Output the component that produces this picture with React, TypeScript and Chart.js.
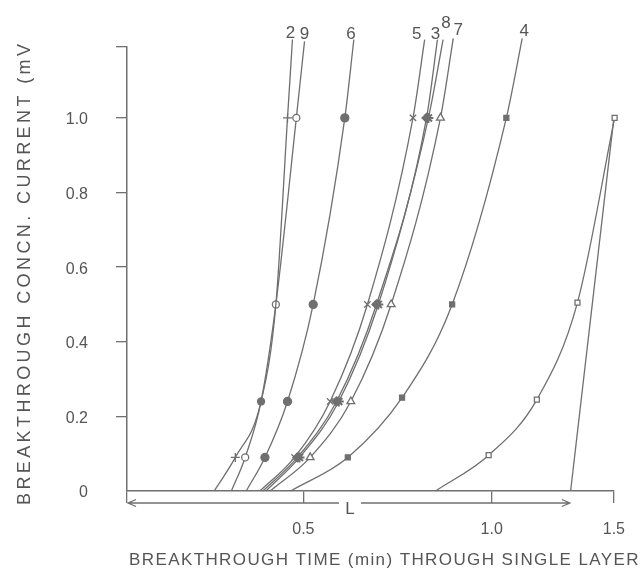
import React, { useEffect, useRef } from 'react';
import { Chart, registerables, LinearScale } from 'chart.js';

// ---------------- values ----------------
const X_TICK_VALUES = [0, 0.5, 1.0, 1.5];
const X_TICK_LABELS = ['', '0.5', '1.0', '1.5'];
const Y_TICK_VALUES = [0, 0.2, 0.4, 0.6, 0.8, 1.0, 1.19];
const Y_TICK_LABELS = ['0', '0.2', '0.4', '0.6', '0.8', '1.0', ''];

const X_TITLE = 'BREAKTHROUGH TIME (min) THROUGH SINGLE LAYER';
const Y_TITLE = 'BREAKTHROUGH CONCN. CURRENT (mV';
const L_LABEL = 'L';
const L_END = 1.32; // single-layer breakthrough time (end of the L arrow)

const CURVE_LABELS = ['2', '9', '6', '5', '3', '8', '7', '4', '', ''];

// time (min) / concn current (mV); first point = where the curve leaves the baseline,
// last point of labelled curves = upper end of the line under its number
const curve2X = [0.247, 0.307, 0.38, 0.422, 0.455, 0.469];
const curve2Y = [0, 0.09, 0.24, 0.5, 1.0, 1.21];
const curve9X = [0.296, 0.335, 0.38, 0.422, 0.48, 0.503];
const curve9Y = [0, 0.09, 0.24, 0.5, 1.0, 1.205];
const curve6X = [0.338, 0.391, 0.455, 0.526, 0.61, 0.634];
const curve6Y = [0, 0.09, 0.24, 0.5, 1.0, 1.21];
const curve5X = [0.377, 0.475, 0.571, 0.67, 0.791, 0.822];
const curve5Y = [0, 0.09, 0.24, 0.5, 1.0, 1.21];
const curve3X = [0.385, 0.483, 0.588, 0.694, 0.827, 0.856];
const curve3Y = [0, 0.09, 0.24, 0.5, 1.0, 1.21];
const curve8X = [0.394, 0.489, 0.594, 0.699, 0.832, 0.871];
const curve8Y = [0, 0.09, 0.24, 0.5, 1.0, 1.21];
const curve7X = [0.406, 0.518, 0.626, 0.733, 0.864, 0.898];
const curve7Y = [0, 0.09, 0.24, 0.5, 1.0, 1.213];
const curve4X = [0.464, 0.618, 0.762, 0.895, 1.06, 1.125];
const curve4Y = [0, 0.09, 0.25, 0.5, 1.0, 1.213];
const curve1X = [0.851, 0.992, 1.185, 1.351, 1.503];
const curve1Y = [0, 0.096, 0.245, 0.505, 1.0];
const singleX = [1.323, 1.5, 1.51];
const singleY = [0, 1.0, 1.04];

const CURVES_X = [curve2X, curve9X, curve6X, curve5X, curve3X, curve8X, curve7X, curve4X, curve1X, singleX];
const CURVES_Y = [curve2Y, curve9Y, curve6Y, curve5Y, curve3Y, curve8Y, curve7Y, curve4Y, curve1Y, singleY];

// where curves 2 and 9 run together only one symbol is printed
const curve2Marked = [false, true, false, false, true, false];
const curve9FilledAt = [false, false, true, false, false, false];

// ---------------- styles ----------------
const FONT = '"Liberation Sans", Arial, Helvetica, sans-serif';
const LINE_COLOR = '#6f6f6f';
const AXIS_COLOR = '#707070';
const TEXT_COLOR = '#555555';

const MARKERS: any[] = [
  { style: 'cross', filled: false, r: 4.5 },
  { style: 'circle', filled: false, r: 3.5 },
  { style: 'circle', filled: true, r: 4 },
  { style: 'crossRot', filled: false, r: 4.5 },
  { style: 'rectRot', filled: true, r: 4.5 },
  { style: 'star', filled: true, r: 5 },
  { style: 'triangle', filled: false, r: 4.5 },
  { style: 'rect', filled: true, r: 3.5 },
  { style: 'rect', filled: false, r: 3.5 },
  { style: false, filled: false, r: 0 },
];
// label offset from the upper end of each line [dx, dy]
const LABEL_OFFSETS = [[-2, -2], [0, -2], [-3, -1], [-8, -1], [-2, -1], [3, -12], [5, -3], [2, -2], [0, 0], [0, 0]];

// printed tick positions along the drawn axis are not evenly spaced
const X_BREAK_VALUES = [0, 0.5, 1.0, 1.5];
const X_BREAK_FRACTIONS = [0, 0.3623, 0.749, 1];

class SegmentedScale extends LinearScale {
  static id = 'segmented';
  static defaults = {};
  getPixelForValue(value: number) {
    const v = value;
    let i = 0;
    while (i < X_BREAK_VALUES.length - 2 && v > X_BREAK_VALUES[i + 1]) i++;
    const t = (v - X_BREAK_VALUES[i]) / (X_BREAK_VALUES[i + 1] - X_BREAK_VALUES[i]);
    const f = X_BREAK_FRACTIONS[i] + t * (X_BREAK_FRACTIONS[i + 1] - X_BREAK_FRACTIONS[i]);
    return this.getPixelForDecimal(f);
  }
  getValueForPixel(pixel: number) {
    const f = this.getDecimalForPixel(pixel);
    let i = 0;
    while (i < X_BREAK_FRACTIONS.length - 2 && f > X_BREAK_FRACTIONS[i + 1]) i++;
    const t = (f - X_BREAK_FRACTIONS[i]) / (X_BREAK_FRACTIONS[i + 1] - X_BREAK_FRACTIONS[i]);
    return X_BREAK_VALUES[i] + t * (X_BREAK_VALUES[i + 1] - X_BREAK_VALUES[i]);
  }
}

Chart.register(...registerables, SegmentedScale);

const annotationsPlugin = {
  id: 'figureAnnotations',
  afterDraw(chart: any) {
    const { ctx, chartArea } = chart;
    const xs = chart.scales.x;
    ctx.save();
    ctx.strokeStyle = AXIS_COLOR;
    ctx.fillStyle = TEXT_COLOR;
    ctx.lineWidth = 1.3;

    // L arrow
    const y = chartArea.bottom + 12;
    const x0 = xs.getPixelForValue(0) + 1;
    const x1 = xs.getPixelForValue(L_END);
    const mid = (x0 + x1) / 2;
    ctx.beginPath();
    ctx.moveTo(x0, y);
    ctx.lineTo(mid - 10, y);
    ctx.moveTo(mid + 12, y);
    ctx.lineTo(x1, y);
    ctx.moveTo(x0 + 8, y - 3.5);
    ctx.lineTo(x0, y);
    ctx.lineTo(x0 + 8, y + 3.5);
    ctx.moveTo(x1 - 8, y - 3.5);
    ctx.lineTo(x1, y);
    ctx.lineTo(x1 - 8, y + 3.5);
    ctx.stroke();
    ctx.font = `17px ${FONT}`;
    ctx.textAlign = 'center';
    ctx.textBaseline = 'middle';
    ctx.fillText(L_LABEL, mid + 1, y + 6);

    // curve numbers
    ctx.font = `17px ${FONT}`;
    ctx.textAlign = 'center';
    ctx.textBaseline = 'alphabetic';
    chart.data.datasets.forEach((ds: any, i: number) => {
      const label = CURVE_LABELS[i];
      if (!label) return;
      const meta = chart.getDatasetMeta(i);
      const last = meta.data[meta.data.length - 1];
      ctx.fillText(label, last.x + LABEL_OFFSETS[i][0], last.y + LABEL_OFFSETS[i][1]);
    });

    // axis titles
    ctx.textAlign = 'left';
    ctx.textBaseline = 'alphabetic';
    ctx.font = `17px ${FONT}`;
    (ctx as any).letterSpacing = '1.4px';
    ctx.fillText(X_TITLE, chartArea.left + 2, chart.height - 3);
    ctx.font = `18px ${FONT}`;
    (ctx as any).letterSpacing = '3.4px';
    ctx.translate(30, chartArea.bottom + 14);
    ctx.rotate(-Math.PI / 2);
    ctx.fillText(Y_TITLE, 0, 0);
    (ctx as any).letterSpacing = '0px';
    ctx.restore();
  },
};

export default function App() {
  const canvasRef = useRef<HTMLCanvasElement | null>(null);

  useEffect(() => {
    const canvas = canvasRef.current;
    if (!canvas) return;
    const datasets = CURVES_X.map((xs, i) => {
      const ys = CURVES_Y[i];
      const m = MARKERS[i];
      const data = xs.map((x, j) => ({ x, y: ys[j] }));
      const radius = ys.map((y, j) => {
        if (!m.style || y <= 0 || y > 1.0) return 0;
        if (i === 0 && !curve2Marked[j]) return 0;
        return m.r;
      });
      const bg = ys.map((_y, j) => (m.filled || (i === 1 && curve9FilledAt[j]) ? LINE_COLOR : '#ffffff'));
      return {
        label: CURVE_LABELS[i] || `curve${i}`,
        data,
        borderColor: LINE_COLOR,
        borderWidth: 1.3,
        cubicInterpolationMode: i === CURVES_X.length - 1 ? 'default' : 'monotone',
        tension: i === CURVES_X.length - 1 ? 0 : 0.4,
        pointStyle: m.style,
        pointRadius: radius,
        pointHoverRadius: radius,
        pointBorderColor: LINE_COLOR,
        pointBackgroundColor: bg,
        pointBorderWidth: m.style === 'star' ? 2 : 1.3,
        clip: false,
        fill: false,
      };
    });

    const chart = new Chart(canvas, {
      type: 'line',
      data: { datasets } as any,
      options: {
        animation: false,
        responsive: false,
        events: [],
        layout: { padding: { top: 47, right: 21, left: 0, bottom: 0 } },
        plugins: { legend: { display: false }, tooltip: { enabled: false }, title: { display: false } },
        scales: {
          x: {
            type: 'segmented' as any,
            min: 0,
            max: 1.5,
            afterBuildTicks: (scale: any) => {
              scale.ticks = X_TICK_VALUES.map((v) => ({ value: v }));
            },
            afterFit: (scale: any) => {
              scale.height = 77;
            },
            ticks: {
              autoSkip: false,
              maxRotation: 0,
              padding: 17,
              color: TEXT_COLOR,
              font: { family: FONT, size: 16 },
              callback: (_v: any, i: number) => X_TICK_LABELS[i],
            },
            grid: { drawOnChartArea: false, drawTicks: true, tickLength: 12, color: AXIS_COLOR, lineWidth: 1.3 },
            border: { display: true, color: AXIS_COLOR, width: 1.5 },
          },
          y: {
            type: 'linear',
            min: 0,
            max: 1.19,
            afterBuildTicks: (scale: any) => {
              scale.ticks = Y_TICK_VALUES.map((v) => ({ value: v }));
            },
            afterFit: (scale: any) => {
              scale.width = 127;
            },
            ticks: {
              autoSkip: false,
              padding: 28,
              labelOffset: 2,
              color: TEXT_COLOR,
              font: { family: FONT, size: 16 },
              callback: (_v: any, i: number) => Y_TICK_LABELS[i],
            },
            grid: {
              drawOnChartArea: false,
              drawTicks: true,
              tickLength: 11,
              lineWidth: 1.3,
              color: (c: any) => (c.tick && c.tick.value === 0 ? 'rgba(0,0,0,0)' : AXIS_COLOR),
            },
            border: { display: true, color: AXIS_COLOR, width: 1.5 },
          },
        },
      } as any,
      plugins: [annotationsPlugin],
    });
    return () => chart.destroy();
  }, []);

  return (
    <div style={{ position: 'fixed', left: 0, top: 0, width: 642, height: 568, background: '#ffffff' }}>
      <canvas ref={canvasRef} width={642} height={568} style={{ display: 'block' }} />
    </div>
  );
}
